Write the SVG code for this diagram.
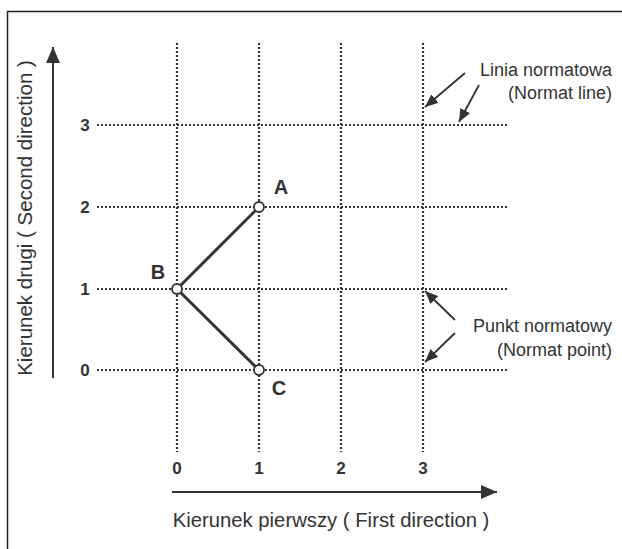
<svg xmlns="http://www.w3.org/2000/svg" width="622" height="549" viewBox="0 0 622 549">
<style>
.grid{stroke:#333;stroke-width:2.2;stroke-dasharray:2 2;fill:none}
.t{font-family:"Liberation Sans",Arial,sans-serif;fill:#333}
.b{font-weight:bold;font-size:17px}
.L{font-weight:bold;font-size:20px}
.ax{stroke:#333;stroke-width:2;fill:none}
.seg{stroke:#333;stroke-width:3;fill:none}
.pt{fill:#fff;stroke:#333;stroke-width:1.8}
.ann{stroke:#333;stroke-width:1.8;fill:none}
</style>
<defs>
<marker id="ah" markerWidth="13" markerHeight="11" refX="13" refY="5.5" orient="auto" markerUnits="userSpaceOnUse" viewBox="0 0 13 11"><path d="M0,0 L13,5.5 L0,11 z" fill="#333"/></marker>
<marker id="big" markerWidth="16" markerHeight="14" refX="16" refY="7" orient="auto" markerUnits="userSpaceOnUse" viewBox="0 0 16 14"><path d="M0,0 L16,7 L0,14 z" fill="#333"/></marker>
</defs>
<rect x="0" y="0" width="622" height="549" fill="#fff"/>
<path d="M7.5,549 V11.5 H622" stroke="#222" stroke-width="1.5" fill="none"/>
<g id="grid">
<line class="grid" x1="177" y1="43" x2="177" y2="452"/>
<line class="grid" x1="259" y1="43" x2="259" y2="452"/>
<line class="grid" x1="341" y1="43" x2="341" y2="452"/>
<line class="grid" x1="423" y1="43" x2="423" y2="452"/>
<line class="grid" x1="97" y1="125" x2="508" y2="125"/>
<line class="grid" x1="97" y1="207" x2="508" y2="207"/>
<line class="grid" x1="97" y1="289" x2="508" y2="289"/>
<line class="grid" x1="97" y1="370" x2="508" y2="370"/>
</g>
<g id="labels">
<text class="t b" x="85" y="131" text-anchor="middle">3</text>
<text class="t b" x="85" y="213" text-anchor="middle">2</text>
<text class="t b" x="85" y="295" text-anchor="middle">1</text>
<text class="t b" x="85" y="376" text-anchor="middle">0</text>
<text class="t b" x="177" y="474" text-anchor="middle">0</text>
<text class="t b" x="259" y="474" text-anchor="middle">1</text>
<text class="t b" x="341" y="474" text-anchor="middle">2</text>
<text class="t b" x="423" y="474" text-anchor="middle">3</text>
</g>
<g id="axes">
<line class="ax" x1="53" y1="378" x2="53" y2="47" marker-end="url(#big)"/>
<line class="ax" x1="172" y1="492" x2="497" y2="492" marker-end="url(#big)"/>
<text class="t" font-size="20.5" transform="translate(32,218) rotate(-90)" text-anchor="middle">Kierunek drugi ( Second direction )</text>
<text class="t" font-size="20.3" x="331" y="527" text-anchor="middle">Kierunek pierwszy ( First direction )</text>
</g>
<g id="connectors">
<line class="seg" x1="177" y1="289" x2="259" y2="207"/>
<line class="seg" x1="177" y1="289" x2="259" y2="370"/>
<line class="ann" x1="465" y1="73" x2="425" y2="107" marker-end="url(#ah)"/>
<line class="ann" x1="479" y1="85" x2="459" y2="122" marker-end="url(#ah)"/>
<line class="ann" x1="455" y1="320" x2="425" y2="291" marker-end="url(#ah)"/>
<line class="ann" x1="455" y1="333" x2="425" y2="362" marker-end="url(#ah)"/>
</g>
<g id="A"><circle class="pt" cx="259" cy="207" r="5"/><text class="t L" x="281" y="194" text-anchor="middle">A</text></g>
<g id="B"><circle class="pt" cx="177" cy="289" r="5"/><text class="t L" x="158" y="279" text-anchor="middle">B</text></g>
<g id="C"><circle class="pt" cx="259" cy="370" r="5"/><text class="t L" x="279" y="395" text-anchor="middle">C</text></g>
<g id="notes">
<text class="t" font-size="18" x="612" y="76" text-anchor="end">Linia normatowa</text>
<text class="t" font-size="18" x="612" y="99" text-anchor="end">(Normat line)</text>
<text class="t" font-size="18" x="612" y="332" text-anchor="end">Punkt normatowy</text>
<text class="t" font-size="18" x="612" y="356" text-anchor="end">(Normat point)</text>
</g>
</svg>
